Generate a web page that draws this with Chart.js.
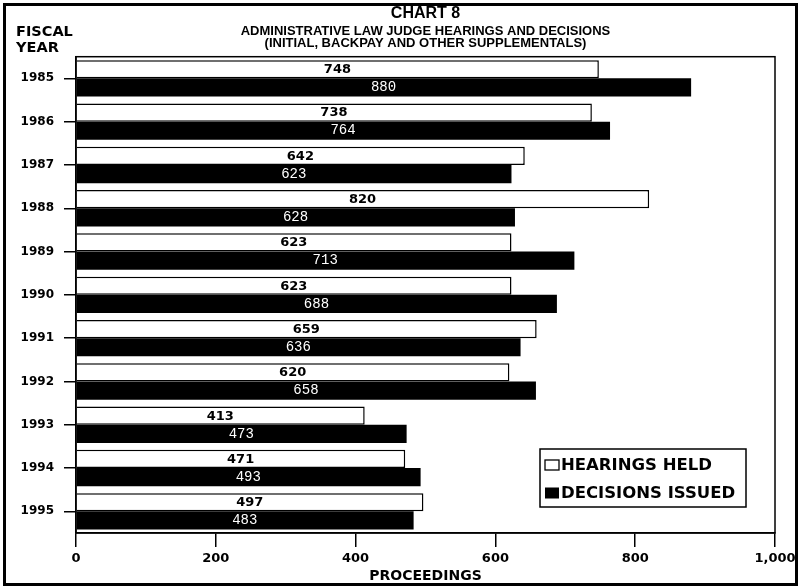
<!DOCTYPE html>
<html>
<head>
<meta charset="utf-8">
<title>Chart 8 - Administrative Law Judge Hearings and Decisions</title>
<script src="https://cdn.jsdelivr.net/npm/chart.js@4/dist/chart.umd.min.js"></script>
<style>
  html, body { margin: 0; padding: 0; background: #fff; }
  #wrap { width: 801px; height: 588px; }
</style>
</head>
<body>
<div id="wrap"><canvas id="chart" width="801" height="588"></canvas></div>
<script>
// Fiscal years (category axis, top to bottom)
const fiscalYears = ['1985', '1986', '1987', '1988', '1989', '1990', '1991', '1992', '1993', '1994', '1995'];

// Administrative law judge proceedings per fiscal year
const hearingsHeld    = [748, 738, 642, 820, 623, 623, 659, 620, 413, 471, 497];
const decisionsIssued = [880, 764, 623, 628, 713, 688, 636, 658, 473, 493, 483];

// Proceedings axis
const proceedingTicks = [0, 200, 400, 600, 800, 1000];

const seriesNames = ['HEARINGS HELD', 'DECISIONS ISSUED'];

const titleText = 'CHART 8';
const subtitleLines = [
  'ADMINISTRATIVE LAW JUDGE HEARINGS AND DECISIONS',
  '(INITIAL, BACKPAY AND OTHER SUPPLEMENTALS)'
];
const yAxisHeading = ['FISCAL', 'YEAR'];
const xAxisHeading = 'PROCEEDINGS';

const HEAVY = "'DejaVu Sans', 'Liberation Sans', sans-serif";
const ARIAL = "'Liberation Sans', Arial, sans-serif";

// White page background
const pageBackground = {
  id: 'pageBackground',
  beforeDraw(chart) {
    const ctx = chart.ctx;
    ctx.save();
    ctx.fillStyle = '#ffffff';
    ctx.fillRect(0, 0, chart.width, chart.height);
    ctx.restore();
  }
};

// Value labels centred on each bar: hearings in bold black, decisions in light white type
const valueLabels = {
  id: 'valueLabels',
  afterDatasetsDraw(chart) {
    const ctx = chart.ctx;
    const xs = chart.scales.x;
    ctx.save();
    ctx.textAlign = 'center';
    ctx.textBaseline = 'middle';
    chart.data.datasets.forEach((ds, di) => {
      const meta = chart.getDatasetMeta(di);
      meta.data.forEach((bar, i) => {
        const v = ds.data[i];
        const x = xs.getPixelForValue(v / 2);
        if (di === 0) {
          ctx.font = "bold 13px " + HEAVY;
          ctx.fillStyle = '#000000';
          ctx.fillText(String(v), x, bar.y + 0.5);
        } else {
          ctx.font = "14px 'Liberation Mono', 'DejaVu Sans Mono', monospace";
          ctx.fillStyle = '#ffffff';
          ctx.fillText(String(v), x, bar.y);
        }
      });
    });
    ctx.restore();
  }
};

// Plot frame, legend box, axis heading and outer border
const decorations = {
  id: 'decorations',
  afterDraw(chart) {
    const ctx = chart.ctx;
    const a = chart.chartArea;
    ctx.save();

    // frame around the plotting area
    ctx.strokeStyle = '#000000';
    ctx.lineWidth = 1.5;
    ctx.strokeRect(a.left, a.top, a.right - a.left, a.bottom - a.top);

    // legend
    const lx = 540, ly = 449, lw = 206, lh = 58;
    ctx.fillStyle = '#ffffff';
    ctx.fillRect(lx, ly, lw, lh);
    ctx.lineWidth = 1.5;
    ctx.strokeRect(lx, ly, lw, lh);
    const rows = [ly + 16, ly + 44];
    chart.data.datasets.forEach((ds, di) => {
      const cy = rows[di];
      if (di === 0) {
        ctx.fillStyle = '#ffffff';
        ctx.fillRect(545, cy - 5, 14, 10);
        ctx.lineWidth = 1.3;
        ctx.strokeRect(545, cy - 5, 14, 10);
      } else {
        ctx.fillStyle = '#000000';
        ctx.fillRect(545, cy - 5.5, 14, 11);
      }
      ctx.fillStyle = '#000000';
      ctx.font = "bold 16.5px " + HEAVY;
      ctx.textAlign = 'left';
      ctx.textBaseline = 'middle';
      ctx.fillText(ds.label, 561, cy + 1);
    });

    // y-axis heading
    ctx.font = "bold 14.5px " + HEAVY;
    ctx.textAlign = 'left';
    ctx.textBaseline = 'middle';
    ctx.fillText(yAxisHeading[0], 16, 32);
    ctx.fillText(yAxisHeading[1], 16, 48);

    // outer border
    ctx.lineWidth = 3;
    ctx.strokeRect(4.5, 4.5, 792, 580);
    ctx.restore();
  }
};

new Chart(document.getElementById('chart'), {
  type: 'bar',
  data: {
    labels: fiscalYears,
    datasets: [
      {
        label: seriesNames[0],
        data: hearingsHeld,
        backgroundColor: '#ffffff',
        borderColor: '#000000',
        borderWidth: 1.5,
        borderSkipped: 'start'
      },
      {
        label: seriesNames[1],
        data: decisionsIssued,
        backgroundColor: '#000000',
        borderWidth: 0
      }
    ]
  },
  options: {
    indexAxis: 'y',
    responsive: false,
    animation: false,
    devicePixelRatio: 1,
    layout: { padding: { left: 0, right: 26, top: 0, bottom: 0 } },
    datasets: {
      bar: { categoryPercentage: 0.84, barPercentage: 1.0 }
    },
    plugins: {
      legend: { display: false },
      tooltip: { enabled: false },
      title: {
        display: true,
        text: titleText,
        fullSize: false,
        color: '#000000',
        font: { family: ARIAL, size: 16, weight: 'bold', lineHeight: 1.0 },
        padding: { top: 6, bottom: 0 }
      },
      subtitle: {
        display: true,
        text: subtitleLines,
        fullSize: false,
        color: '#000000',
        font: { family: ARIAL, size: 13, weight: 'bold', lineHeight: 0.95 },
        padding: { top: 3, bottom: 7 }
      }
    },
    scales: {
      y: {
        type: 'category',
        position: 'left',
        offset: true,
        grid: {
          offset: false,
          drawOnChartArea: false,
          drawTicks: true,
          tickLength: 12,
          color: '#000000',
          lineWidth: 1.5
        },
        border: { display: true, color: '#000000', width: 1.5 },
        ticks: {
          color: '#000000',
          padding: 10,
          font: { family: HEAVY, size: 12, weight: 'bold' }
        },
        afterFit(scale) { scale.width = 76; }
      },
      x: {
        type: 'linear',
        position: 'bottom',
        min: proceedingTicks[0],
        max: proceedingTicks[proceedingTicks.length - 1],
        afterBuildTicks(scale) {
          scale.ticks = proceedingTicks.map(v => ({ value: v }));
        },
        grid: {
          drawOnChartArea: false,
          drawTicks: true,
          tickLength: 14,
          color: '#000000',
          lineWidth: 1.5
        },
        border: { display: true, color: '#000000', width: 1.5 },
        ticks: {
          color: '#000000',
          padding: 4,
          font: { family: HEAVY, size: 13, weight: 'bold' },
          callback: v => v.toLocaleString('en-US')
        },
        title: {
          display: true,
          text: xAxisHeading,
          color: '#000000',
          font: { family: HEAVY, size: 14, weight: 'bold', lineHeight: 1.0 },
          padding: { top: 0, bottom: 5 }
        },
        afterFit(scale) { scale.height = 55; }
      }
    }
  },
  plugins: [pageBackground, valueLabels, decorations]
});
</script>
</body>
</html>
